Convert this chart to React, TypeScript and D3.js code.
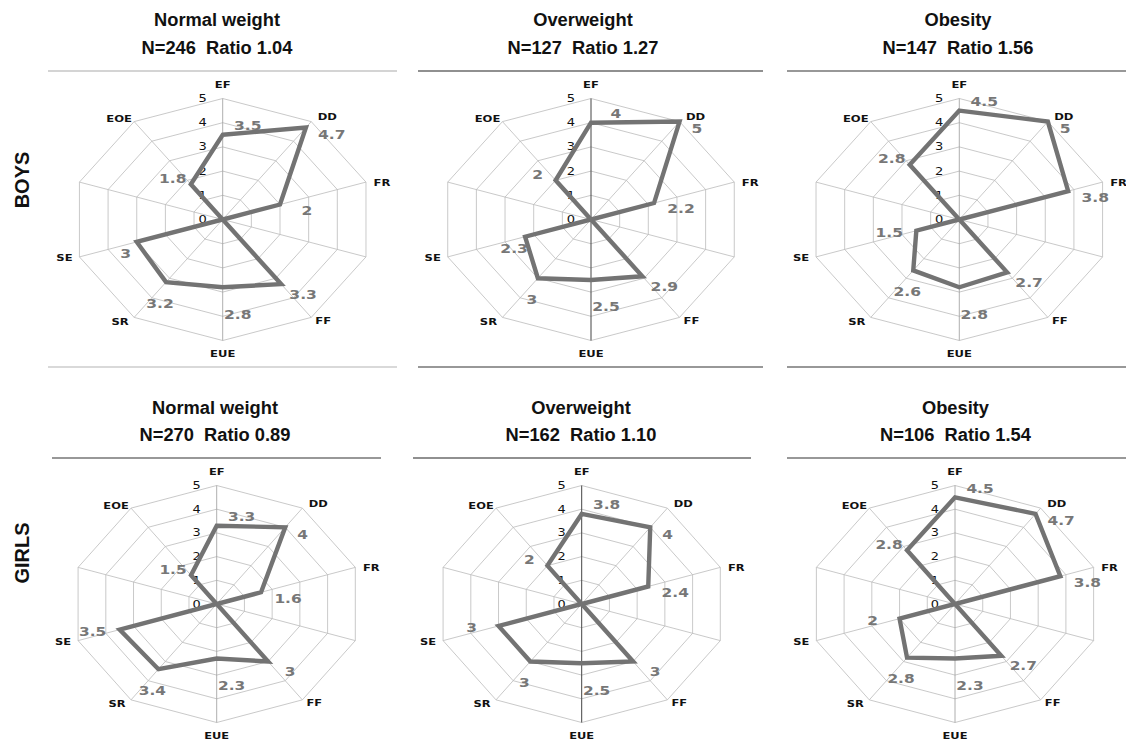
import React from "react";
import * as d3 from "d3";

// ten spokes, two of them unnamed (no data, drawn through the centre)
const axisNames = ["EF", "DD", "FR", "", "FF", "EUE", "SR", "SE", "", "EOE"];
const levels = [0, 1, 2, 3, 4, 5];
const groupNames = ["Normal weight", "Overweight", "Obesity"];
const rowNames = ["BOYS", "GIRLS"];

const boysN = [246, 127, 147];
const boysRatio = ["1.04", "1.27", "1.56"];
const girlsN = [270, 162, 106];
const girlsRatio = ["0.89", "1.10", "1.54"];

const boysNormal = [3.5, 4.7, 2, 0, 3.3, 2.8, 3.2, 3, 0, 1.8];
const boysOverweight = [4, 5, 2.2, 0, 2.9, 2.5, 3, 2.3, 0, 2];
const boysObesity = [4.5, 5, 3.8, 0, 2.7, 2.8, 2.6, 1.5, 0, 2.8];
const girlsNormal = [3.3, 4, 1.6, 0, 3, 2.3, 3.4, 3.5, 0, 1.5];
const girlsOverweight = [3.8, 4, 2.4, 0, 3, 2.5, 3, 3, 0, 2];
const girlsObesity = [4.5, 4.7, 3.8, 0, 2.7, 2.3, 2.8, 2, 0, 2.8];

// ---- layout / style ----
const W = 1126, H = 746;
const rows = [
  { cy: 219.5, ry: 121, sx: 1.245, titleY: 26, subY: 54, labelY: 180,
    cx: [222.7, 591, 959.3], titleX: [217, 583, 958] },
  { cy: 604, ry: 118.5, sx: 1.23, titleY: 414, subY: 441, labelY: 553,
    cx: [216.7, 581.7, 955], titleX: [215, 581, 955.5] },
];
const rules = [
  { y: 71, x0: 48, x1: 397, c: "#a9a9a9" }, { y: 71, x0: 418, x1: 763, c: "#222" }, { y: 71, x0: 787, x1: 1126, c: "#333" },
  { y: 367, x0: 48, x1: 397, c: "#b3b3b3" }, { y: 367, x0: 418, x1: 763, c: "#333" }, { y: 367, x0: 787, x1: 1126, c: "#333" },
  { y: 458, x0: 52, x1: 381, c: "#333" }, { y: 458, x0: 413, x1: 751, c: "#222" }, { y: 458, x0: 787, x1: 1126, c: "#333" },
];
// value label offsets in screen px from the data point
const valueOffset: ([number, number, string] | null)[] = [
  [25, -9, "middle"], [12, 7, "start"], [27, 6, "middle"], null, [22, 10, "middle"],
  [15, 27, "middle"], [-6, 21, "middle"], [-27, 2, "middle"], null, [-18, -6, "middle"],
];
// axis name offsets in screen px from the outer vertex
const nameOffset = [[0, -14], [16, -5], [16, 0], [0, 0], [12, 3], [0, 12.5], [-14, 4], [-15, 0.5], [0, 0], [-15, -3]];

const step = (2 * Math.PI) / axisNames.length;

function Radar({ values, cx, cy, ry, sx, seNudge, darkSpoke }: any) {
  const r = d3.scaleLinear().domain([0, 5]).range([0, ry]);
  const radial = d3.lineRadial<number>()
    .angle((_, i) => i * step)
    .radius((d) => r(d))
    .curve(d3.curveLinearClosed);
  return (
    <g transform={`translate(${cx},${cy}) scale(${sx},1)`}>
      {levels.slice(1).map((lv) => (
        <path key={lv} d={radial(axisNames.map(() => lv)) || ""} fill="none" stroke="#bbbbbb"
          strokeWidth={0.8} vectorEffect="non-scaling-stroke" />
      ))}
      {axisNames.map((_, i) => {
        const [x, y] = d3.pointRadial(i * step, r(5));
        const vert = i === 0 || i === 5;
        return <line key={i} x1={0} y1={0} x2={x} y2={y}
          stroke={vert ? (darkSpoke ? "#444" : "#9a9a9a") : "#bbbbbb"}
          strokeWidth={vert && darkSpoke ? 1 : 0.8} vectorEffect="non-scaling-stroke" />;
      })}
      {levels.map((lv) => (
        <text key={lv} x={-16 / sx} y={-r(lv)} textAnchor="end" dominantBaseline="central"
          fontFamily="DejaVu Sans" fontSize={10.5} fill="#111">{lv}</text>
      ))}
      {axisNames.map((name, i) => {
        if (!name) return null;
        const [x, y] = d3.pointRadial(i * step, r(5));
        return <text key={name} x={x + nameOffset[i][0] / sx} y={y + nameOffset[i][1]} textAnchor="middle"
          dominantBaseline="central" fontFamily="DejaVu Sans" fontWeight="bold" fontSize={9.3} fill="#111">{name}</text>;
      })}
      <path d={radial(values) || ""} fill="none" stroke="#737373" strokeWidth={4.4}
        strokeLinejoin="miter" vectorEffect="non-scaling-stroke" />
      {values.map((v: number, i: number) => {
        let off = valueOffset[i];
        if (!off || !axisNames[i]) return null;
        if (i === 7 && seNudge) off = [seNudge[0], seNudge[1], "middle"];
        const [x, y] = d3.pointRadial(i * step, r(v));
        return <text key={i} x={x + off[0] / sx} y={y + off[1]} textAnchor={off[2] as any}
          dominantBaseline="central" fontFamily="DejaVu Sans" fontWeight="bold" fontSize={12.5}
          fill="#777777">{String(v)}</text>;
      })}
    </g>
  );
}

export default function App() {
  const panels = [
    [boysNormal, boysOverweight, boysObesity],
    [girlsNormal, girlsOverweight, girlsObesity],
  ];
  const ns = [boysN, girlsN];
  const ratios = [boysRatio, girlsRatio];
  return (
    <svg width={W} height={H} style={{ position: "absolute", left: 0, top: 0, background: "#fff" }}>
      {rules.map((l, i) => (
        <line key={i} x1={l.x0} x2={l.x1} y1={l.y} y2={l.y} stroke={l.c} strokeWidth={1.2} />
      ))}
      {rows.map((row, ri) => (
        <g key={ri}>
          <text transform={`translate(22,${row.labelY}) rotate(-90)`} textAnchor="middle" dominantBaseline="central"
            fontFamily="Liberation Sans, Arial" fontWeight="bold" fontSize={20} fill="#111">{rowNames[ri]}</text>
          {groupNames.map((g, ci) => (
            <g key={ci}>
              <text x={row.titleX[ci]} y={row.titleY} textAnchor="middle" fontFamily="Liberation Sans, Arial"
                fontWeight="bold" fontSize={18.3} fill="#111">{g}</text>
              <text x={row.titleX[ci]} y={row.subY} textAnchor="middle" fontFamily="Liberation Sans, Arial"
                fontWeight="bold" fontSize={18.3} fill="#111" style={{ whiteSpace: "pre" }}>
                {`N=${ns[ri][ci]}  Ratio ${ratios[ri][ci]}`}
              </text>
              <Radar values={panels[ri][ci]} cx={row.cx[ci]} cy={row.cy} ry={row.ry} sx={row.sx}
                seNudge={ri === 0 && ci < 2 ? [-11, 12] : null} darkSpoke={ci === 1} />
            </g>
          ))}
        </g>
      ))}
    </svg>
  );
}
